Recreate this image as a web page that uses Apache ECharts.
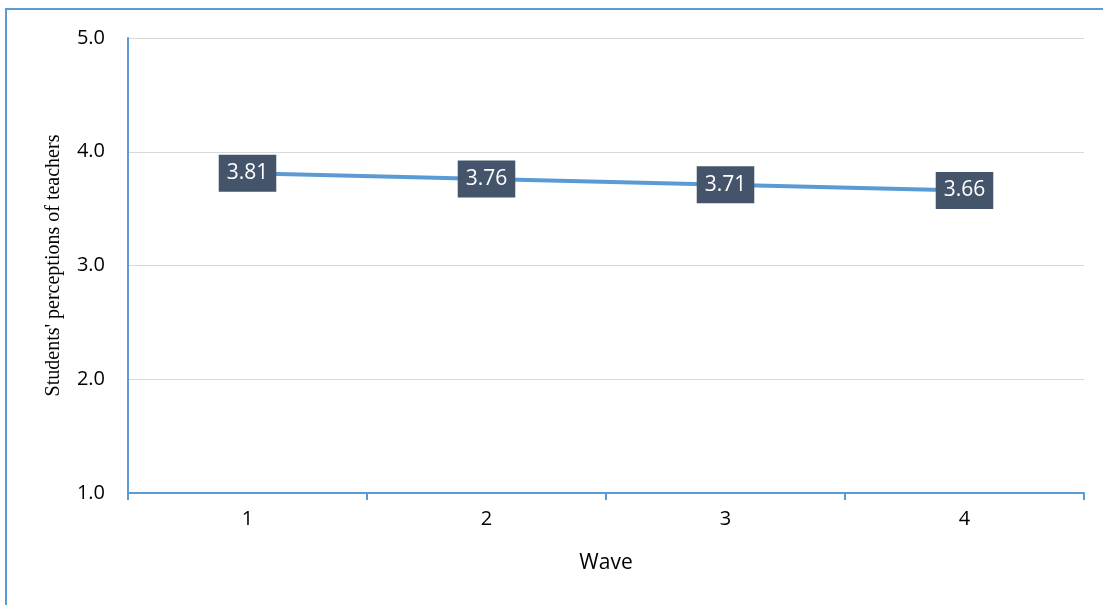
<!DOCTYPE html>
<html>
<head>
<meta charset="utf-8">
<script src="https://cdn.jsdelivr.net/npm/echarts@6/dist/echarts.min.js"></script>
<style>
  html, body { margin: 0; padding: 0; background: #ffffff; }
  #chart { width: 1103px; height: 605px; }
</style>
</head>
<body>
<div id="chart"></div>
<script>
// Wave categories and mean perception scores
const waves = ['1', '2', '3', '4'];
const perceptionScores = [3.81, 3.76, 3.71, 3.66];
const yTicks = [1, 2, 3, 4, 5];

const chart = echarts.init(document.getElementById('chart'));

chart.setOption({
  animation: false,
  backgroundColor: '#ffffff',
  graphic: [{
    type: 'rect',
    shape: { x: 6, y: 9, width: 1300, height: 800 },
    style: { fill: 'none', stroke: '#5b9bd5', lineWidth: 2 },
    silent: true
  }],
  grid: { left: 128, top: 38, right: 19, bottom: 112 },
  xAxis: {
    type: 'category',
    data: waves,
    boundaryGap: true,
    name: 'Wave',
    nameLocation: 'middle',
    nameGap: 60,
    nameTextStyle: { fontFamily: 'Open Sans', fontSize: 21, color: '#000000' },
    axisLine: { lineStyle: { color: '#5b9bd5', width: 2 } },
    axisTick: { show: true, length: 7, lineStyle: { color: '#5b9bd5', width: 2 } },
    axisLabel: { fontFamily: 'Open Sans', fontSize: 20, color: '#000000', margin: 16 }
  },
  yAxis: {
    type: 'value',
    min: yTicks[0],
    max: yTicks[yTicks.length - 1],
    interval: 1,
    name: "Students' perceptions of teachers",
    nameLocation: 'middle',
    nameGap: 64,
    nameTextStyle: { fontFamily: 'Liberation Serif', fontSize: 20, color: '#000000' },
    axisLine: { show: true, lineStyle: { color: '#5b9bd5', width: 2 } },
    axisTick: { show: false },
    splitLine: { lineStyle: { color: '#d9d9d9', width: 1 } },
    axisLabel: {
      fontFamily: 'Open Sans', fontSize: 20, color: '#000000', margin: 23,
      formatter: v => v.toFixed(1)
    }
  },
  series: [{
    type: 'line',
    data: perceptionScores,
    symbol: 'circle',
    symbolSize: 1,
    showSymbol: true,
    lineStyle: { color: '#5b9bd5', width: 4 },
    itemStyle: { color: '#5b9bd5' },
    label: {
      show: true,
      position: 'inside',
      formatter: p => p.value.toFixed(2),
      backgroundColor: '#44546a',
      color: '#ffffff',
      fontFamily: 'Open Sans',
      fontSize: 21,
      padding: [8, 8, 8, 8]
    }
  }]
});
</script>
</body>
</html>
